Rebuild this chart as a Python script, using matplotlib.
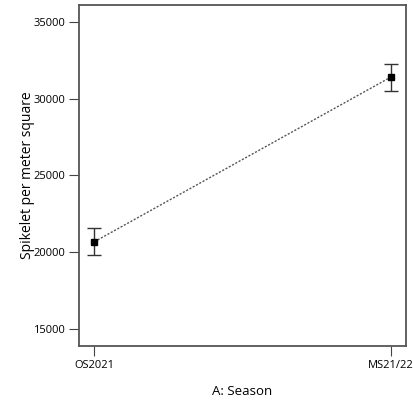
import matplotlib.pyplot as plt

plt.rcParams['font.family'] = ['Open Sans', 'DejaVu Sans']

seasons = ['OS2021', 'MS21/22']
spikelets = [20670, 31400]
errors = [880, 880]

fig = plt.figure(figsize=(4.14, 4.03), dpi=100)
ax = fig.add_axes([79 / 414, 57 / 403, 327 / 414, 341 / 403])

x = list(range(len(seasons)))
ax.plot(x, spikelets, linestyle=(0, (1.5, 1.2)), color='#555555', linewidth=1.0, zorder=2)
ax.errorbar(x, spikelets, yerr=errors, fmt='s', color='black', markersize=5,
            ecolor='#333333', elinewidth=1.0, capsize=5, capthick=1.0, zorder=3)

ax.set_xlim(-0.052, 1.052)
ax.set_ylim(13870, 36110)
ax.set_xticks(x)
ax.set_xticklabels(seasons, fontsize=8)
ax.set_yticks([15000, 20000, 25000, 30000, 35000])
ax.tick_params(axis='y', labelsize=8, length=7, width=0.8, color='#444444', pad=3)
ax.tick_params(axis='x', length=7, width=0.8, color='#444444', pad=3)

for side in ax.spines.values():
    side.set_color('#555555')
    side.set_linewidth(1.3)

ax.set_ylabel('Spikelet per meter square', fontsize=10)
ax.yaxis.set_label_coords(-0.135, 0.5)
ax.set_xlabel('A: Season', fontsize=9.5, labelpad=10)

fig.savefig('out.png', dpi=100)
